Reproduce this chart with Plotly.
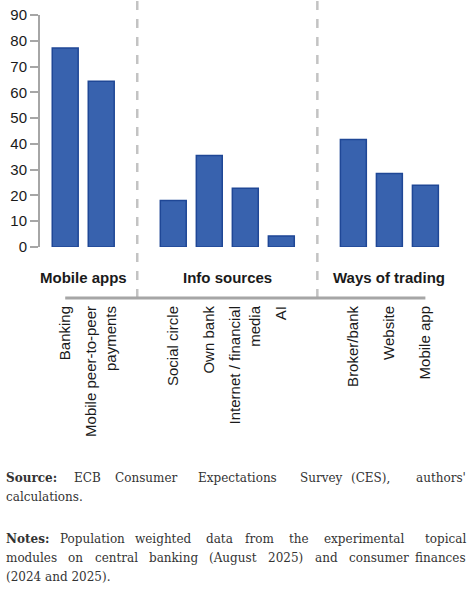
import plotly.graph_objects as go

# share of respondents (%)
groups = ["Mobile apps", "Info sources", "Ways of trading"]
mobile_labels = ["Banking", "Mobile peer-to-peer<br>payments"]
mobile_values = [77.2, 64.3]
info_labels = ["Social circle", "Own bank", "Internet / financial<br>media", "AI"]
info_values = [18.0, 35.5, 22.8, 4.3]
trading_labels = ["Broker/bank", "Website", "Mobile app"]
trading_values = [41.7, 28.5, 24.0]

source_words = ["ECB", "Consumer", "Expectations", "Survey", "(CES),", "authors'"]
notes_line1 = ["Population", "weighted", "data", "from", "the", "experimental", "topical"]
notes_line2 = ["modules", "on", "central", "banking", "(August", "2025)", "and", "consumer", "finances"]

W, H = 473, 592
L, R, T, B = 40, 26, 15, 345
pw, ph = W - L - R, H - T - B


def px(x):
    return (x - L) / pw


def py(y):
    return (H - B - y) / ph


# category order with an empty slot between groups
spacers = [" ", "  "]
order = mobile_labels + [spacers[0]] + info_labels + [spacers[1]] + trading_labels
labels = mobile_labels + info_labels + trading_labels
values = mobile_values + info_values + trading_values

fig = go.Figure()
fig.add_trace(go.Bar(
    x=labels, y=values, width=0.72,
    marker=dict(color="#3862ae", line=dict(color="#1f4796", width=1.5)),
    hoverinfo="skip",
))

axis_font = dict(family="Liberation Sans, Arial", size=15, color="#1a1a1a")

# group labels and separators
members = [mobile_labels, info_labels, trading_labels]
for name, m in zip(groups, members):
    mid = (order.index(m[0]) + order.index(m[-1])) / 2
    fig.add_annotation(x=mid, y=py(277), xref="x", yref="paper", text="<b>%s</b>" % name,
                       showarrow=False, font=axis_font, xanchor="center", yanchor="middle")

for s in spacers:
    i = order.index(s)
    fig.add_shape(type="line", xref="x", yref="paper", x0=i, x1=i, y0=py(298), y1=py(0),
                  line=dict(color="#c3c3c3", width=2.5, dash="dash"))

fig.add_shape(type="line", xref="x", yref="paper", x0=0, x1=len(order) - 1,
              y0=py(298), y1=py(298), line=dict(color="#a6a6a6", width=3))

# footnotes (justified in the original: words placed one by one, last word flush right)
note_font = dict(family="DejaVu Serif", size=12, color="#333333")
src_x = [71.7, 112.7, 195.7, 297.7, 349]
n1_x = [58.3, 133.3, 204, 242.7, 287, 322.3]
n2_x = [4, 66.4, 92.7, 147, 207.4, 266.2, 312.7, 346.6]
right_edge = 468


def word(text, x, y, anchor="left"):
    fig.add_annotation(x=px(x), y=py(y), xref="paper", yref="paper", text=text, showarrow=False,
                       font=note_font, xanchor=anchor, yanchor="middle")


word("<b>Source:</b>", 4, 478)
for w, x in zip(source_words, src_x):
    word(w, x, 478)
word(source_words[-1], right_edge, 478, "right")
word("calculations.", 4, 497)
word("<b>Notes:</b>", 4, 539)
for w, x in zip(notes_line1, n1_x):
    word(w, x, 539)
word(notes_line1[-1], right_edge, 539, "right")
for w, x in zip(notes_line2, n2_x):
    word(w, x, 558)
word(notes_line2[-1], right_edge, 558, "right")
word("(2024 and 2025).", 4, 577)

fig.update_layout(
    width=W, height=H,
    margin=dict(l=L, r=R, t=T, b=B),
    plot_bgcolor="white", paper_bgcolor="white",
    showlegend=False,
    font=axis_font,
    xaxis=dict(type="category", categoryorder="array", categoryarray=order,
               tickvals=labels, range=[-0.7, len(order) - 1 + 0.6], automargin=False,
               tickangle=-90, ticks="outside", ticklen=52, tickcolor="rgba(0,0,0,0)",
               showline=False, showgrid=False, zeroline=False, tickfont=axis_font),
    yaxis=dict(range=[0, 90], dtick=10, showgrid=False, zeroline=False, automargin=False,
               showline=True, linecolor="#a6a6a6", linewidth=2,
               ticks="outside", ticklen=8, tickcolor="#a6a6a6", tickwidth=2,
               tickfont=axis_font),
)

fig.write_html("out.html", config={"displayModeBar": False},
               post_script="document.body.style.margin='0';document.body.style.overflow='hidden';")
